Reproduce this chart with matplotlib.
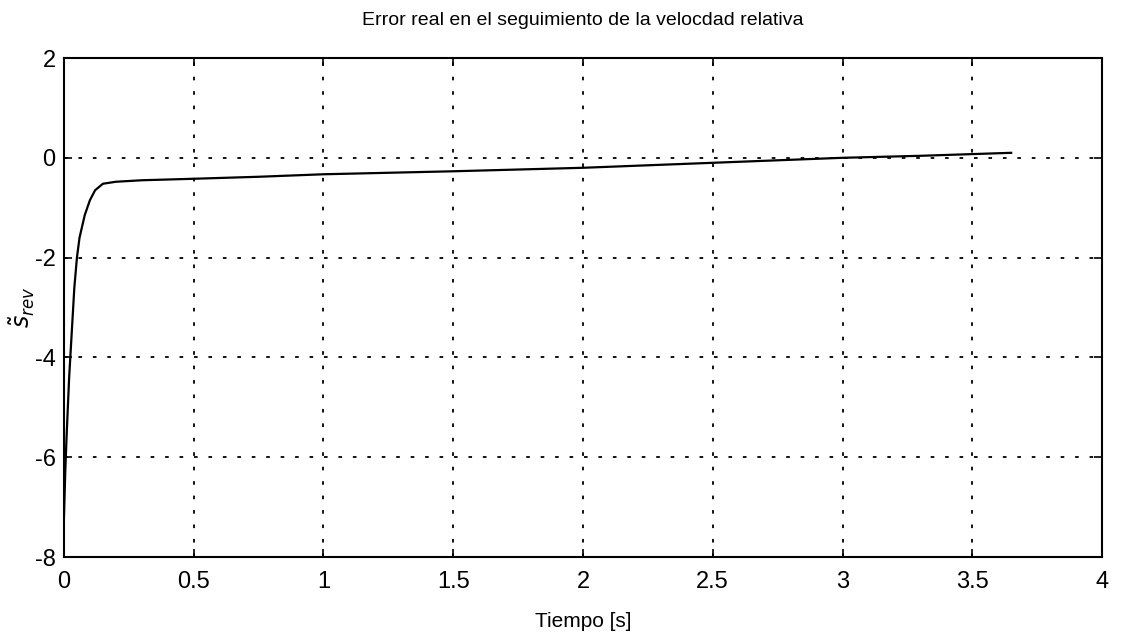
import matplotlib
matplotlib.use("Agg")
import matplotlib.pyplot as plt

# tracking error of relative velocity over time
tiempo = [0.0, 0.005, 0.01, 0.02, 0.03, 0.04, 0.05, 0.06, 0.08, 0.10, 0.12, 0.15,
          0.2, 0.3, 0.5, 0.75, 1.0, 1.25, 1.5, 2.0, 2.5, 3.0, 3.3, 3.65]
error_vel = [-7.2, -6.3, -5.6, -4.4, -3.5, -2.6, -2.0, -1.6, -1.15, -0.85, -0.65, -0.52,
             -0.48, -0.45, -0.42, -0.38, -0.33, -0.30, -0.27, -0.20, -0.10, 0.0, 0.04, 0.10]

x_ticks = [0, 0.5, 1, 1.5, 2, 2.5, 3, 3.5, 4]
x_labels = ["0", "0.5", "1", "1.5", "2", "2.5", "3", "3.5", "4"]
y_ticks = [-8, -6, -4, -2, 0, 2]

plt.rcParams['font.family'] = ['Liberation Sans', 'DejaVu Sans']
plt.rcParams['axes.unicode_minus'] = False

fig = plt.figure(figsize=(11.26, 6.36), dpi=100)
ax = fig.add_axes([0.0568, 0.1242, 0.9219, 0.7846])

ax.plot(tiempo, error_vel, color="black", linewidth=1.6)

ax.set_xlim(0, 4)
ax.set_ylim(-8, 2)
ax.set_xticks(x_ticks)
ax.set_xticklabels(x_labels)
ax.set_yticks(y_ticks)
ax.grid(True, color="black", linestyle=(0, (2, 6)), linewidth=1.3)
ax.tick_params(direction="in", top=True, right=True, length=6, width=1.2,
               labelsize=17)
ax.tick_params(axis="x", pad=10)
ax.tick_params(axis="y", pad=6)
for s in ax.spines.values():
    s.set_linewidth(1.5)

ax.set_title("Error real en el seguimiento de la velocdad relativa", fontsize=14, pad=24)
ax.set_xlabel("Tiempo [s]", fontsize=15, labelpad=14)
ax.set_ylabel(r"$\tilde{s}_{rev}$", fontsize=17)
ax.yaxis.set_label_coords(-0.026, 0.5)

fig.savefig("out.png", dpi=100)
